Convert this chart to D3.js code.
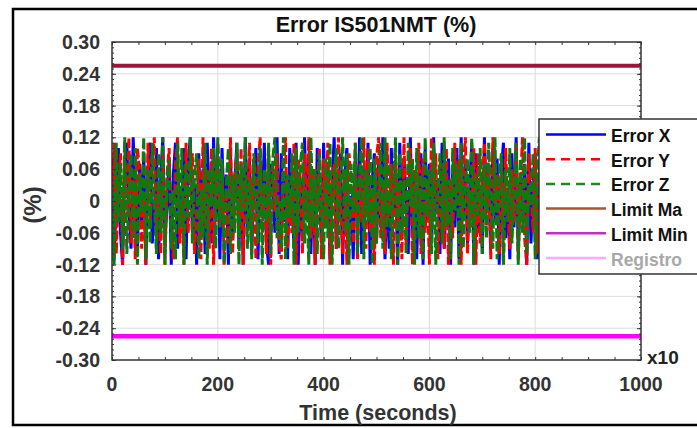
<!DOCTYPE html>
<html>
<head>
<meta charset="utf-8">
<script src="https://cdn.jsdelivr.net/npm/d3@7"></script>
<style>
  html, body { margin: 0; padding: 0; background: #ffffff; }
  svg { display: block; font-family: "Liberation Sans", Arial, sans-serif; font-weight: bold; }
</style>
</head>
<body>
<svg id="chart" width="697" height="428"></svg>
<script>
// Sampling step of the logged signal (time axis is in units of 10 s)
const timeStep = 4;

const errorX = [
  0.08,-0.11,0.03,0.10,-0.06,-0.12,0.05,0.11,-0.02,-0.09,
  0.12,0.01,-0.10,0.07,-0.04,0.09,-0.12,0.06,0.11,-0.08,
  -0.03,0.10,-0.11,0.04,0.12,-0.07,-0.01,0.08,-0.12,0.05,
  0.11,-0.09,0.02,-0.05,0.10,-0.11,0.07,0.12,-0.06,0.03,
  -0.12,0.09,-0.04,0.06,-0.10,0.11,0.00,-0.08,0.12,-0.03,
  0.07,-0.11,0.10,-0.02,0.05,-0.12,0.09,-0.07,0.03,0.11,
  -0.09,0.04,-0.12,0.12,-0.05,0.08,-0.10,0.02,0.10,-0.11,
  0.06,-0.01,0.11,-0.08,-0.12,0.07,0.03,-0.06,0.12,-0.10,
  0.09,-0.04,0.05,-0.11,0.10,0.01,-0.09,0.11,-0.12,0.04,
  -0.07,0.12,-0.03,0.08,-0.10,0.06,-0.12,0.10,0.02,-0.08,
  0.11,-0.05,0.07,-0.11,0.03,0.12,-0.09,-0.02,0.09,-0.12,
  0.05,0.10,-0.07,0.01,-0.11,0.08,-0.04,0.12,-0.10,0.06,
  -0.01,0.11,-0.12,0.04,0.09,-0.08,0.07,-0.05,0.12,-0.11,
  0.02,-0.09,0.10,-0.03,0.06,-0.12,0.11,-0.06,0.08,0.00,
  -0.10,0.12,-0.07,0.05,-0.11,0.03,0.09,-0.12,0.10,-0.04,
  0.07,-0.08,0.12,-0.02,0.04,-0.10,0.11,-0.09,0.01,0.08,
  -0.12,0.06,-0.05,0.10,-0.11,0.12,-0.03,0.07,-0.08,0.02,
  0.11,-0.12,0.09,-0.06,0.03,-0.10,0.12,-0.01,0.05,-0.09,
  0.10,-0.04,0.08,-0.12,0.06,0.11,-0.07,0.02,-0.11,0.09,
  -0.05,0.12,-0.10,0.04,-0.02,0.07,-0.12,0.11,-0.08,0.03,
  0.09,-0.11,0.05,0.12,-0.06,-0.03,0.10,-0.12,0.08,-0.07,
  0.01,0.11,-0.09,0.06,-0.12,0.04,0.12,-0.05,-0.10,0.07,
  -0.02,0.10,-0.11,0.09,0.03,-0.08,0.12,-0.12,0.05,-0.04,
  0.11,-0.07,0.08,-0.10,0.02,0.12,-0.09,0.06,-0.11,0.10,
  -0.03,0.07,-0.12,0.11,-0.06,0.04,-0.10,0.09,0.01,-0.08,
  0.05
];

const errorY = [
  -0.06,0.11,-0.10,0.02,0.09,-0.12,0.07,-0.03,0.12,-0.08,
  0.04,-0.11,0.10,0.06,-0.09,0.01,-0.12,0.11,-0.05,0.08,
  0.12,-0.07,0.03,-0.10,0.09,-0.12,0.05,0.10,-0.04,-0.11,
  0.07,0.12,-0.08,0.00,-0.12,0.11,-0.06,0.04,0.09,-0.10,
  -0.02,0.08,-0.11,0.12,-0.05,0.06,-0.09,0.10,-0.12,0.03,
  0.11,-0.04,0.07,-0.12,0.02,-0.08,0.12,-0.10,0.05,0.09,
  -0.07,0.10,-0.12,0.04,-0.01,0.11,-0.09,0.08,-0.11,0.06,
  0.12,-0.06,0.03,-0.10,0.10,-0.12,0.07,-0.02,0.09,-0.08,
  -0.11,0.05,0.12,-0.09,0.01,-0.06,0.11,-0.12,0.08,0.04,
  -0.10,0.09,-0.03,0.12,-0.07,0.06,-0.12,0.02,0.10,-0.11,
  0.08,-0.05,0.11,-0.12,0.04,0.07,-0.09,0.12,-0.01,-0.10,
  0.06,-0.12,0.09,0.03,-0.08,0.11,-0.11,0.05,-0.04,0.12,
  -0.09,0.10,-0.06,0.01,-0.12,0.08,0.12,-0.07,0.04,-0.10,
  0.11,-0.03,0.07,-0.12,0.09,-0.05,0.02,-0.11,0.12,-0.08,
  0.05,0.10,-0.12,0.06,-0.02,0.11,-0.10,0.08,-0.06,0.03,
  -0.12,0.12,-0.04,0.09,-0.11,0.01,0.07,-0.09,0.10,-0.12,
  0.04,-0.07,0.11,-0.01,0.08,-0.12,0.06,0.12,-0.10,0.02,
  -0.05,0.10,-0.12,0.09,-0.08,0.03,0.11,-0.06,0.07,-0.11,
  0.12,-0.02,0.05,-0.10,0.08,-0.12,0.10,0.00,-0.09,0.06,
  -0.04,0.11,-0.11,0.03,0.12,-0.07,-0.12,0.09,0.02,-0.06,
  0.10,-0.10,0.07,-0.03,0.12,-0.12,0.05,0.08,-0.11,0.01,
  -0.08,0.12,-0.05,0.10,-0.12,0.06,-0.02,0.11,-0.09,0.04,
  0.09,-0.11,0.12,-0.07,0.02,-0.10,0.08,-0.04,0.11,-0.12,
  0.03,0.07,-0.08,0.12,-0.11,0.05,-0.03,0.10,-0.12,0.09,
  -0.06,0.01,0.11,-0.10,0.06,-0.12,0.12,-0.05,0.04,-0.09,
  0.08
];

const errorZ = [
  0.03,-0.12,0.11,-0.04,0.07,-0.09,0.12,-0.10,0.01,0.09,
  -0.07,0.10,-0.12,0.05,-0.02,0.12,-0.11,0.06,-0.08,0.11,
  0.00,-0.10,0.09,-0.06,0.12,-0.12,0.04,0.08,-0.09,0.02,
  -0.11,0.11,-0.05,0.10,-0.12,0.07,-0.03,0.12,-0.08,0.05,
  0.09,-0.11,0.02,-0.07,0.11,-0.12,0.06,-0.01,0.10,-0.09,
  0.12,-0.05,0.08,-0.12,0.03,0.10,-0.10,0.05,-0.06,0.11,
  -0.12,0.07,-0.02,0.12,-0.09,0.04,-0.11,0.09,0.01,-0.08,
  0.10,-0.12,0.06,-0.04,0.11,-0.10,0.08,0.12,-0.07,0.00,
  -0.09,0.12,-0.11,0.05,-0.03,0.09,-0.12,0.10,-0.06,0.07,
  0.11,-0.08,0.02,-0.12,0.12,-0.05,0.06,-0.10,0.09,-0.01,
  -0.11,0.08,-0.07,0.11,-0.12,0.04,0.10,-0.09,0.03,0.12,
  -0.06,0.09,-0.12,0.07,-0.02,0.11,-0.10,0.05,0.12,-0.11,
  0.06,-0.04,0.10,-0.12,0.08,-0.08,0.02,0.11,-0.09,0.12,
  -0.05,0.07,-0.11,0.03,0.12,-0.12,0.09,-0.06,0.04,-0.10,
  0.11,-0.01,0.08,-0.12,0.10,-0.07,0.05,-0.11,0.12,-0.03,
  0.06,-0.10,0.11,-0.12,0.02,0.09,-0.08,0.12,-0.05,0.04,
  -0.11,0.10,-0.02,0.07,-0.12,0.11,-0.09,0.03,0.08,-0.06,
  0.12,-0.12,0.05,-0.03,0.10,-0.10,0.07,-0.07,0.11,0.01,
  -0.09,0.12,-0.11,0.04,0.09,-0.12,0.06,-0.04,0.10,-0.08,
  0.02,0.11,-0.12,0.08,-0.06,0.12,-0.10,0.03,-0.01,0.09,
  -0.11,0.06,0.12,-0.09,0.05,-0.12,0.10,-0.05,0.07,-0.10,
  0.11,-0.02,0.04,-0.11,0.12,-0.08,0.08,-0.12,0.01,0.10,
  -0.07,0.09,-0.12,0.12,-0.04,0.06,-0.10,0.11,-0.09,0.03,
  0.07,-0.11,0.10,-0.06,0.12,-0.12,0.02,0.09,-0.08,0.11,
  -0.03,0.05,-0.12,0.10,-0.10,0.08,0.12,-0.07,-0.11,0.06,
  0.04
];

const limitMax = 0.255;
const limitMin = -0.255;

const xTicks = [0, 200, 400, 600, 800, 1000];
const yTicks = [-0.30, -0.24, -0.18, -0.12, -0.06, 0, 0.06, 0.12, 0.18, 0.24, 0.30];
const yTickLabels = ["-0.30", "-0.24", "-0.18", "-0.12", "-0.06", "0", "0.06", "0.12", "0.18", "0.24", "0.30"];

const legendItems = [
  { label: "Error X",   color: "#0000ff", dash: null,  text: "#111111" },
  { label: "Error Y",   color: "#ff0000", dash: "9,6", text: "#111111" },
  { label: "Error Z",   color: "#1e8a1e", dash: "9,6", text: "#111111" },
  { label: "Limit Ma",  color: "#b0552a", dash: null,  text: "#111111" },
  { label: "Limit Min", color: "#c030c8", dash: null,  text: "#111111" },
  { label: "Registro",  color: "#ffaaf8", dash: null,  text: "#a8a8a8" }
];

const svg = d3.select("#chart");
const plot = { left: 112, right: 641, top: 42, bottom: 360 };

const x = d3.scaleLinear().domain([0, 1000]).range([plot.left, plot.right]);
const y = d3.scaleLinear().domain([-0.30, 0.30]).range([plot.bottom, plot.top]);

// Outer frame
svg.append("rect")
  .attr("x", 13).attr("y", 9).attr("width", 700).attr("height", 416)
  .attr("fill", "none").attr("stroke", "#000").attr("stroke-width", 2.5);

// Grid
const grid = svg.append("g").attr("stroke", "#dcdcdc").attr("stroke-width", 1);
grid.selectAll("line.gy").data(yTicks.slice(1, -1)).join("line")
  .attr("x1", plot.left).attr("x2", plot.right)
  .attr("y1", d => y(d)).attr("y2", d => y(d));
grid.selectAll("line.gx").data(xTicks.slice(1, -1)).join("line")
  .attr("y1", plot.top).attr("y2", plot.bottom)
  .attr("x1", d => x(d)).attr("x2", d => x(d));

// Clip for data
svg.append("clipPath").attr("id", "clip").append("rect")
  .attr("x", plot.left).attr("y", plot.top)
  .attr("width", plot.right - plot.left).attr("height", plot.bottom - plot.top);

const data = svg.append("g").attr("clip-path", "url(#clip)");
const line = d3.line().x((d, i) => x(i * timeStep)).y(d => y(d));

data.append("path").datum(errorX).attr("d", line)
  .attr("fill", "none").attr("stroke", "#0000ff").attr("stroke-width", 3);
data.append("path").datum(errorY).attr("d", line)
  .attr("fill", "none").attr("stroke", "#ff0000").attr("stroke-width", 3)
  .attr("stroke-dasharray", "9,3");
data.append("path").datum(errorZ).attr("d", line)
  .attr("fill", "none").attr("stroke", "#0f7a0f").attr("stroke-width", 3)
  .attr("stroke-dasharray", "10,3");

// Limits
data.append("line")
  .attr("x1", x(0)).attr("x2", x(1000)).attr("y1", y(limitMax)).attr("y2", y(limitMax))
  .attr("stroke", "#a0143a").attr("stroke-width", 4);
data.append("line")
  .attr("x1", x(0)).attr("x2", x(1000)).attr("y1", y(limitMin)).attr("y2", y(limitMin))
  .attr("stroke", "#ff00ff").attr("stroke-width", 4.5);

// Axes with inward ticks on all four sides
const axisColor = "#333333";
function styleAxis(g) {
  g.select(".domain").remove();
  g.selectAll("line").attr("stroke", axisColor).attr("stroke-width", 1);
  g.selectAll("text").remove();
}
const xMinor = d3.range(0, 1001, 50);
const yMinor = d3.range(-30, 31, 1).map(v => v / 100);

svg.append("g").attr("transform", `translate(0,${plot.bottom})`)
  .call(d3.axisTop(x).tickValues(xMinor).tickSize(3)).call(styleAxis);
svg.append("g").attr("transform", `translate(0,${plot.top})`)
  .call(d3.axisBottom(x).tickValues(xMinor).tickSize(3)).call(styleAxis);
svg.append("g").attr("transform", `translate(${plot.left},0)`)
  .call(d3.axisRight(y).tickValues(yMinor).tickSize(2)).call(styleAxis);
svg.append("g").attr("transform", `translate(${plot.right},0)`)
  .call(d3.axisLeft(y).tickValues(yMinor).tickSize(2)).call(styleAxis);
svg.append("g").attr("transform", `translate(${plot.left},0)`)
  .call(d3.axisRight(y).tickValues(yTicks).tickSize(4)).call(styleAxis);
svg.append("g").attr("transform", `translate(${plot.right},0)`)
  .call(d3.axisLeft(y).tickValues(yTicks).tickSize(4)).call(styleAxis);

svg.append("rect")
  .attr("x", plot.left).attr("y", plot.top)
  .attr("width", plot.right - plot.left).attr("height", plot.bottom - plot.top)
  .attr("fill", "none").attr("stroke", axisColor).attr("stroke-width", 1.5);

// Tick labels
svg.append("g").selectAll("text").data(yTicks).join("text")
  .attr("x", 100).attr("y", d => y(d)).attr("dy", "0.36em")
  .attr("text-anchor", "end").attr("fill", "#333")
  .attr("font-size", 19.5)
  .text((d, i) => yTickLabels[i]);

svg.append("g").selectAll("text").data(xTicks).join("text")
  .attr("x", d => x(d)).attr("y", 391)
  .attr("text-anchor", "middle").attr("fill", "#333")
  .attr("font-size", 19.5)
  .text(d => d);

svg.append("text").attr("x", 647).attr("y", 364)
  .attr("fill", "#222").attr("font-size", 19).text("x10");

// Titles
svg.append("text").attr("x", 376).attr("y", 32)
  .attr("text-anchor", "middle").attr("fill", "#111").attr("font-size", 21.5)
  .text("Error IS501NMT (%)");

svg.append("text").attr("x", 378).attr("y", 420)
  .attr("text-anchor", "middle").attr("fill", "#333").attr("font-size", 21.5)
  .text("Time (seconds)");

svg.append("text")
  .attr("transform", "translate(41,205) rotate(-90)")
  .attr("text-anchor", "middle").attr("fill", "#333").attr("font-size", 24)
  .text("(%)");

// Legend
const legend = svg.append("g");
legend.append("rect")
  .attr("x", 539).attr("y", 119).attr("width", 200).attr("height", 155)
  .attr("fill", "#fff").attr("stroke", "#333").attr("stroke-width", 1.5);
const rows = legend.selectAll("g.row").data(legendItems).join("g")
  .attr("transform", (d, i) => `translate(0,${142 + i * 24.7})`);
rows.append("line")
  .attr("x1", 546).attr("x2", 606).attr("y1", -7.5).attr("y2", -7.5)
  .attr("stroke", d => d.color).attr("stroke-width", 2.5)
  .attr("stroke-dasharray", d => d.dash);
rows.append("text")
  .attr("x", 611).attr("y", 0)
  .attr("fill", d => d.text).attr("font-size", 17.5)
  .text(d => d.label);
</script>
</body>
</html>
